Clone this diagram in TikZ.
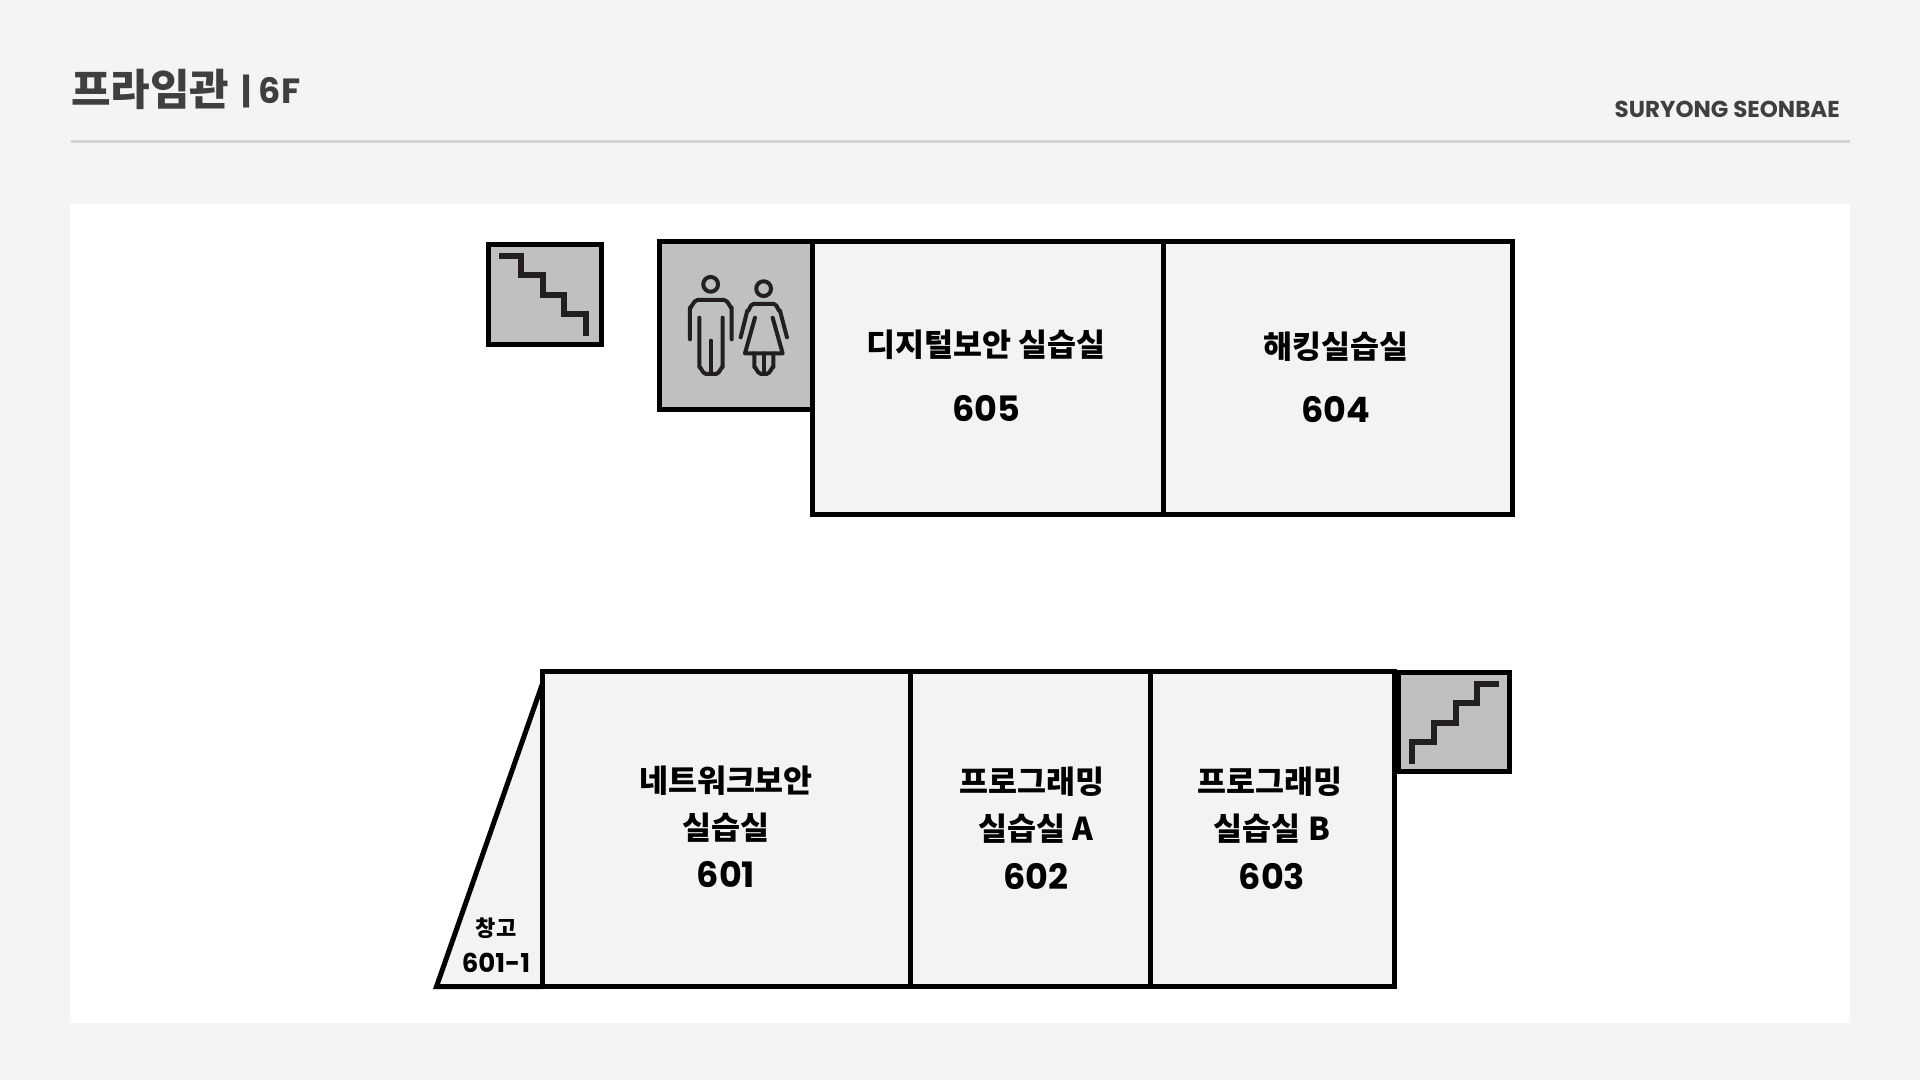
\documentclass[tikz,border=0pt]{standalone}
\usepackage{fontspec}
\newfontfamily\kr{Noto Sans CJK KR Black}
\newfontfamily\lat{Poppins}
\definecolor{pagebg}{HTML}{F4F4F4}
\definecolor{roomfill}{HTML}{F3F3F3}
\definecolor{grayroom}{HTML}{C0C0C0}
\definecolor{ink}{HTML}{000000}
\definecolor{icon}{HTML}{231F20}
\definecolor{head}{HTML}{3F3F3F}
\definecolor{rule}{HTML}{D2D2D2}
\tikzset{
  x=1pt,y=-1pt,
  wall/.style={draw=ink,line width=5pt,miter limit=10},
  room/.style={wall,fill=roomfill},
  service/.style={wall,fill=grayroom},
  stairline/.style={draw=icon,line width=6pt},
  person/.style={draw=icon,line width=4pt,line cap=round,line join=round},
  roomname/.style={font=\kr\fontsize{31.5}{33}\selectfont,text=ink,inner sep=0pt,align=center},
  roomno/.style={font=\lat\bfseries\fontsize{35}{37}\selectfont,text=ink,inner sep=0pt},
}
\begin{document}
\begin{tikzpicture}
\useasboundingbox (0,0) rectangle (1920,1080);
\fill[pagebg] (0,0) rectangle (1920,1080);
\fill[white] (70,204) rectangle (1850,1023);
\draw[rule,line width=3pt] (71,141) -- (1850,141);
% header
\node[anchor=west,inner sep=0pt,text=head,font=\kr\fontsize{43}{44}\selectfont] (title) at (71,89) {프라임관};
\node[anchor=west,inner sep=0pt,text=head,font=\lat\bfseries\fontsize{35}{37}\selectfont] (floor) at (241,91) {| 6F};
\node[anchor=east,inner sep=0pt,text=head,font=\lat\bfseries\fontsize{23}{24}\selectfont] (brand) at (1840,109) {SURYONG SEONBAE};
% upper block
\path[service] (488.5,244.5) rectangle (601.5,344.5);
\draw[stairline] (499,256) -- (521,256) -- (521,275) -- (543,275) -- (543,295) -- (564,295) -- (564,314) -- (586,314) -- (586,336);
\path[service] (659.5,241.5) rectangle (812,409.5);
\path[room] (812,241.5) rectangle (1163,514);
\path[room] (1163,241.5) rectangle (1512.5,514);
% restroom icon
\begin{scope}[shift={(460,220)},x=0.3333pt,y=-0.3333pt]
\draw[person] (752,193) circle[radius=7.4pt];
\draw[person] (690,358) -- (690,262) to[out=-90,in=180] (712,240) -- (793,240) to[out=0,in=-90] (815,262) -- (815,358);
\draw[person] (718,293) -- (718,442) to[out=90,in=180] (738,462) -- (768,462) to[out=0,in=90] (788,442) -- (788,293);
\draw[person] (752,362) -- (752,462);
\draw[person] (911,206) circle[radius=7.4pt];
\draw[person] (842,352) -- (862,272) to[out=-75,in=180] (880,252) -- (942,252) to[out=0,in=-105] (960,272) -- (981,352);
\draw[person] (885,293) -- (855,400) -- (968,400) -- (938,293);
\draw[person] (883,400) -- (883,442) to[out=90,in=180] (903,462) -- (920,462) to[out=0,in=90] (940,442) -- (940,400);
\draw[person] (911,400) -- (911,462);
\end{scope}
\node[roomname] (n605) at (986,345) {디지털보안 실습실};
\node[roomno] (r605) at (986,409) {605};
\node[roomname] (n604) at (1336,347) {해킹실습실};
\node[roomno] (r604) at (1336,410) {604};
% lower block
\path[room] (542,986.5) -- (436.5,986.5) -- (542,685);
\path[room] (542,671.5) rectangle (910,986.5);
\path[room] (910,671.5) rectangle (1150,986.5);
\path[room] (1150,671.5) rectangle (1394.5,986.5);
\path[service] (1398,672) rectangle (1509,771);
\draw[stairline] (1412,764) -- (1412,742) -- (1434,742) -- (1434,723) -- (1456,723) -- (1456,703) -- (1477,703) -- (1477,684) -- (1499,684);
\node[roomname] (n601) at (726,781) {네트워크보안};
\node[roomname] (n601b) at (726,828) {실습실};
\node[roomno] (r601) at (726,875) {601};
\node[roomname] (n602) at (1032,782) {프로그래밍};
\node[roomname] (n602b) at (1036,829) {실습실 A};
\node[roomno] (r602) at (1036,877) {602};
\node[roomname] (n603) at (1270,782) {프로그래밍};
\node[roomname] (n603b) at (1272,829) {실습실 B};
\node[roomno] (r603) at (1272,877) {603};
\node[roomname,font=\kr\fontsize{22}{24}\selectfont] (store) at (496,928) {창고};
\node[roomno,font=\lat\bfseries\fontsize{26}{28}\selectfont] (storeno) at (496,963) {601-1};
\end{tikzpicture}
\end{document}
